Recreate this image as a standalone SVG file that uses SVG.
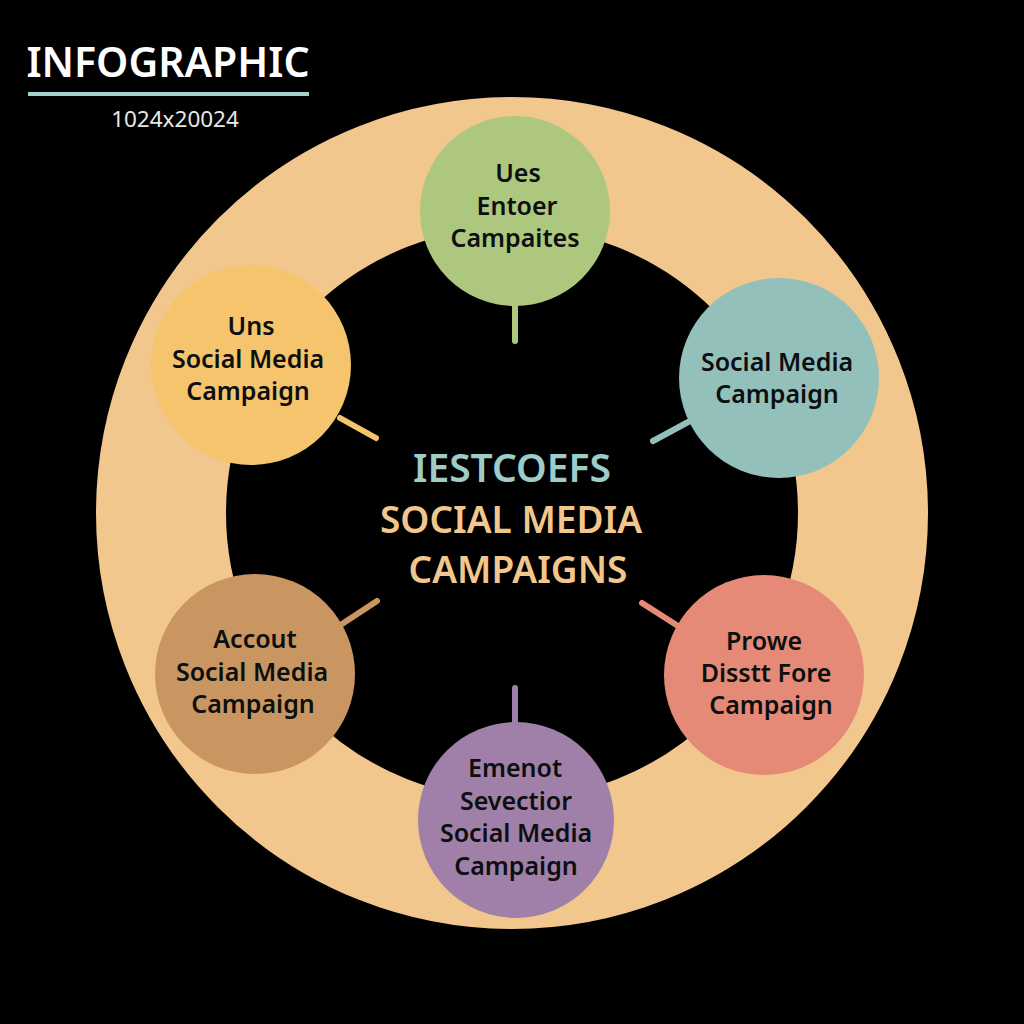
<svg xmlns="http://www.w3.org/2000/svg" width="1024" height="1024" viewBox="0 0 1024 1024">
<style>
text{font-family:"Noto Sans","Open Sans",sans-serif;text-anchor:middle}
.n{font-size:25px;font-weight:600;fill:#0c0f10}
.c{font-size:37px;font-weight:600}
.l{stroke-width:6;stroke-linecap:round;fill:none}
</style>
<rect width="1024" height="1024" fill="#000"/>
<g id="header">
<text x="168" y="77" font-size="41" font-weight="600" fill="#fff">INFOGRAPHIC</text>
<rect x="28" y="92" width="281" height="4" fill="#a3d1cc"/>
<text x="175" y="127" font-size="22.500" fill="#e8e8e8">1024x20024</text>
</g>
<g id="ring"><circle cx="512" cy="513" r="351" fill="none" stroke="#f2c78e" stroke-width="130"/></g>
<g id="connectors">
<path class="l" d="M515 300V341" stroke="#aec77f"/>
<path class="l" d="M690 421L653 441" stroke="#94c0bb"/>
<path class="l" d="M642 603L678 626" stroke="#e58a76"/>
<path class="l" d="M515 688V725" stroke="#a080a8"/>
<path class="l" d="M377 601L342 624" stroke="#c99560"/>
<path class="l" d="M340 418L376 438" stroke="#f5c46c"/>
</g>
<g id="center">
<text class="c" style="font-size:39px" x="512" y="482" fill="#9ccdc8">IESTCOEFS</text>
<text class="c" x="511" y="533" fill="#f2c78e">SOCIAL MEDIA</text>
<text class="c" x="518" y="583" fill="#f2c78e">CAMPAIGNS</text>
</g>
<g id="node-top"><circle cx="515" cy="211" r="95" fill="#aec77f"/>
<text class="n" x="518" y="182">Ues</text><text class="n" x="517" y="215">Entoer</text><text class="n" x="515" y="247">Campaites</text></g>
<g id="node-right"><circle cx="779" cy="378" r="100" fill="#94c0bb"/>
<text class="n" x="777" y="371">Social Media</text><text class="n" x="777" y="403">Campaign</text></g>
<g id="node-lower-right"><circle cx="764" cy="675" r="100" fill="#e58a76"/>
<text class="n" x="764" y="650">Prowe</text><text class="n" x="766" y="682">Disstt Fore</text><text class="n" x="771" y="714">Campaign</text></g>
<g id="node-bottom"><circle cx="516" cy="820" r="98" fill="#a080a8"/>
<text class="n" x="515" y="777">Emenot</text><text class="n" x="516" y="810">Sevectior</text><text class="n" x="516" y="842">Social Media</text><text class="n" x="516" y="875">Campaign</text></g>
<g id="node-lower-left"><circle cx="255" cy="674" r="100" fill="#c99560"/>
<text class="n" x="255" y="648">Accout</text><text class="n" x="252" y="681">Social Media</text><text class="n" x="253" y="713">Campaign</text></g>
<g id="node-upper-left"><circle cx="251" cy="365" r="100" fill="#f5c46c"/>
<text class="n" x="251" y="335">Uns</text><text class="n" x="248" y="368">Social Media</text><text class="n" x="248" y="400">Campaign</text></g>
</svg>
